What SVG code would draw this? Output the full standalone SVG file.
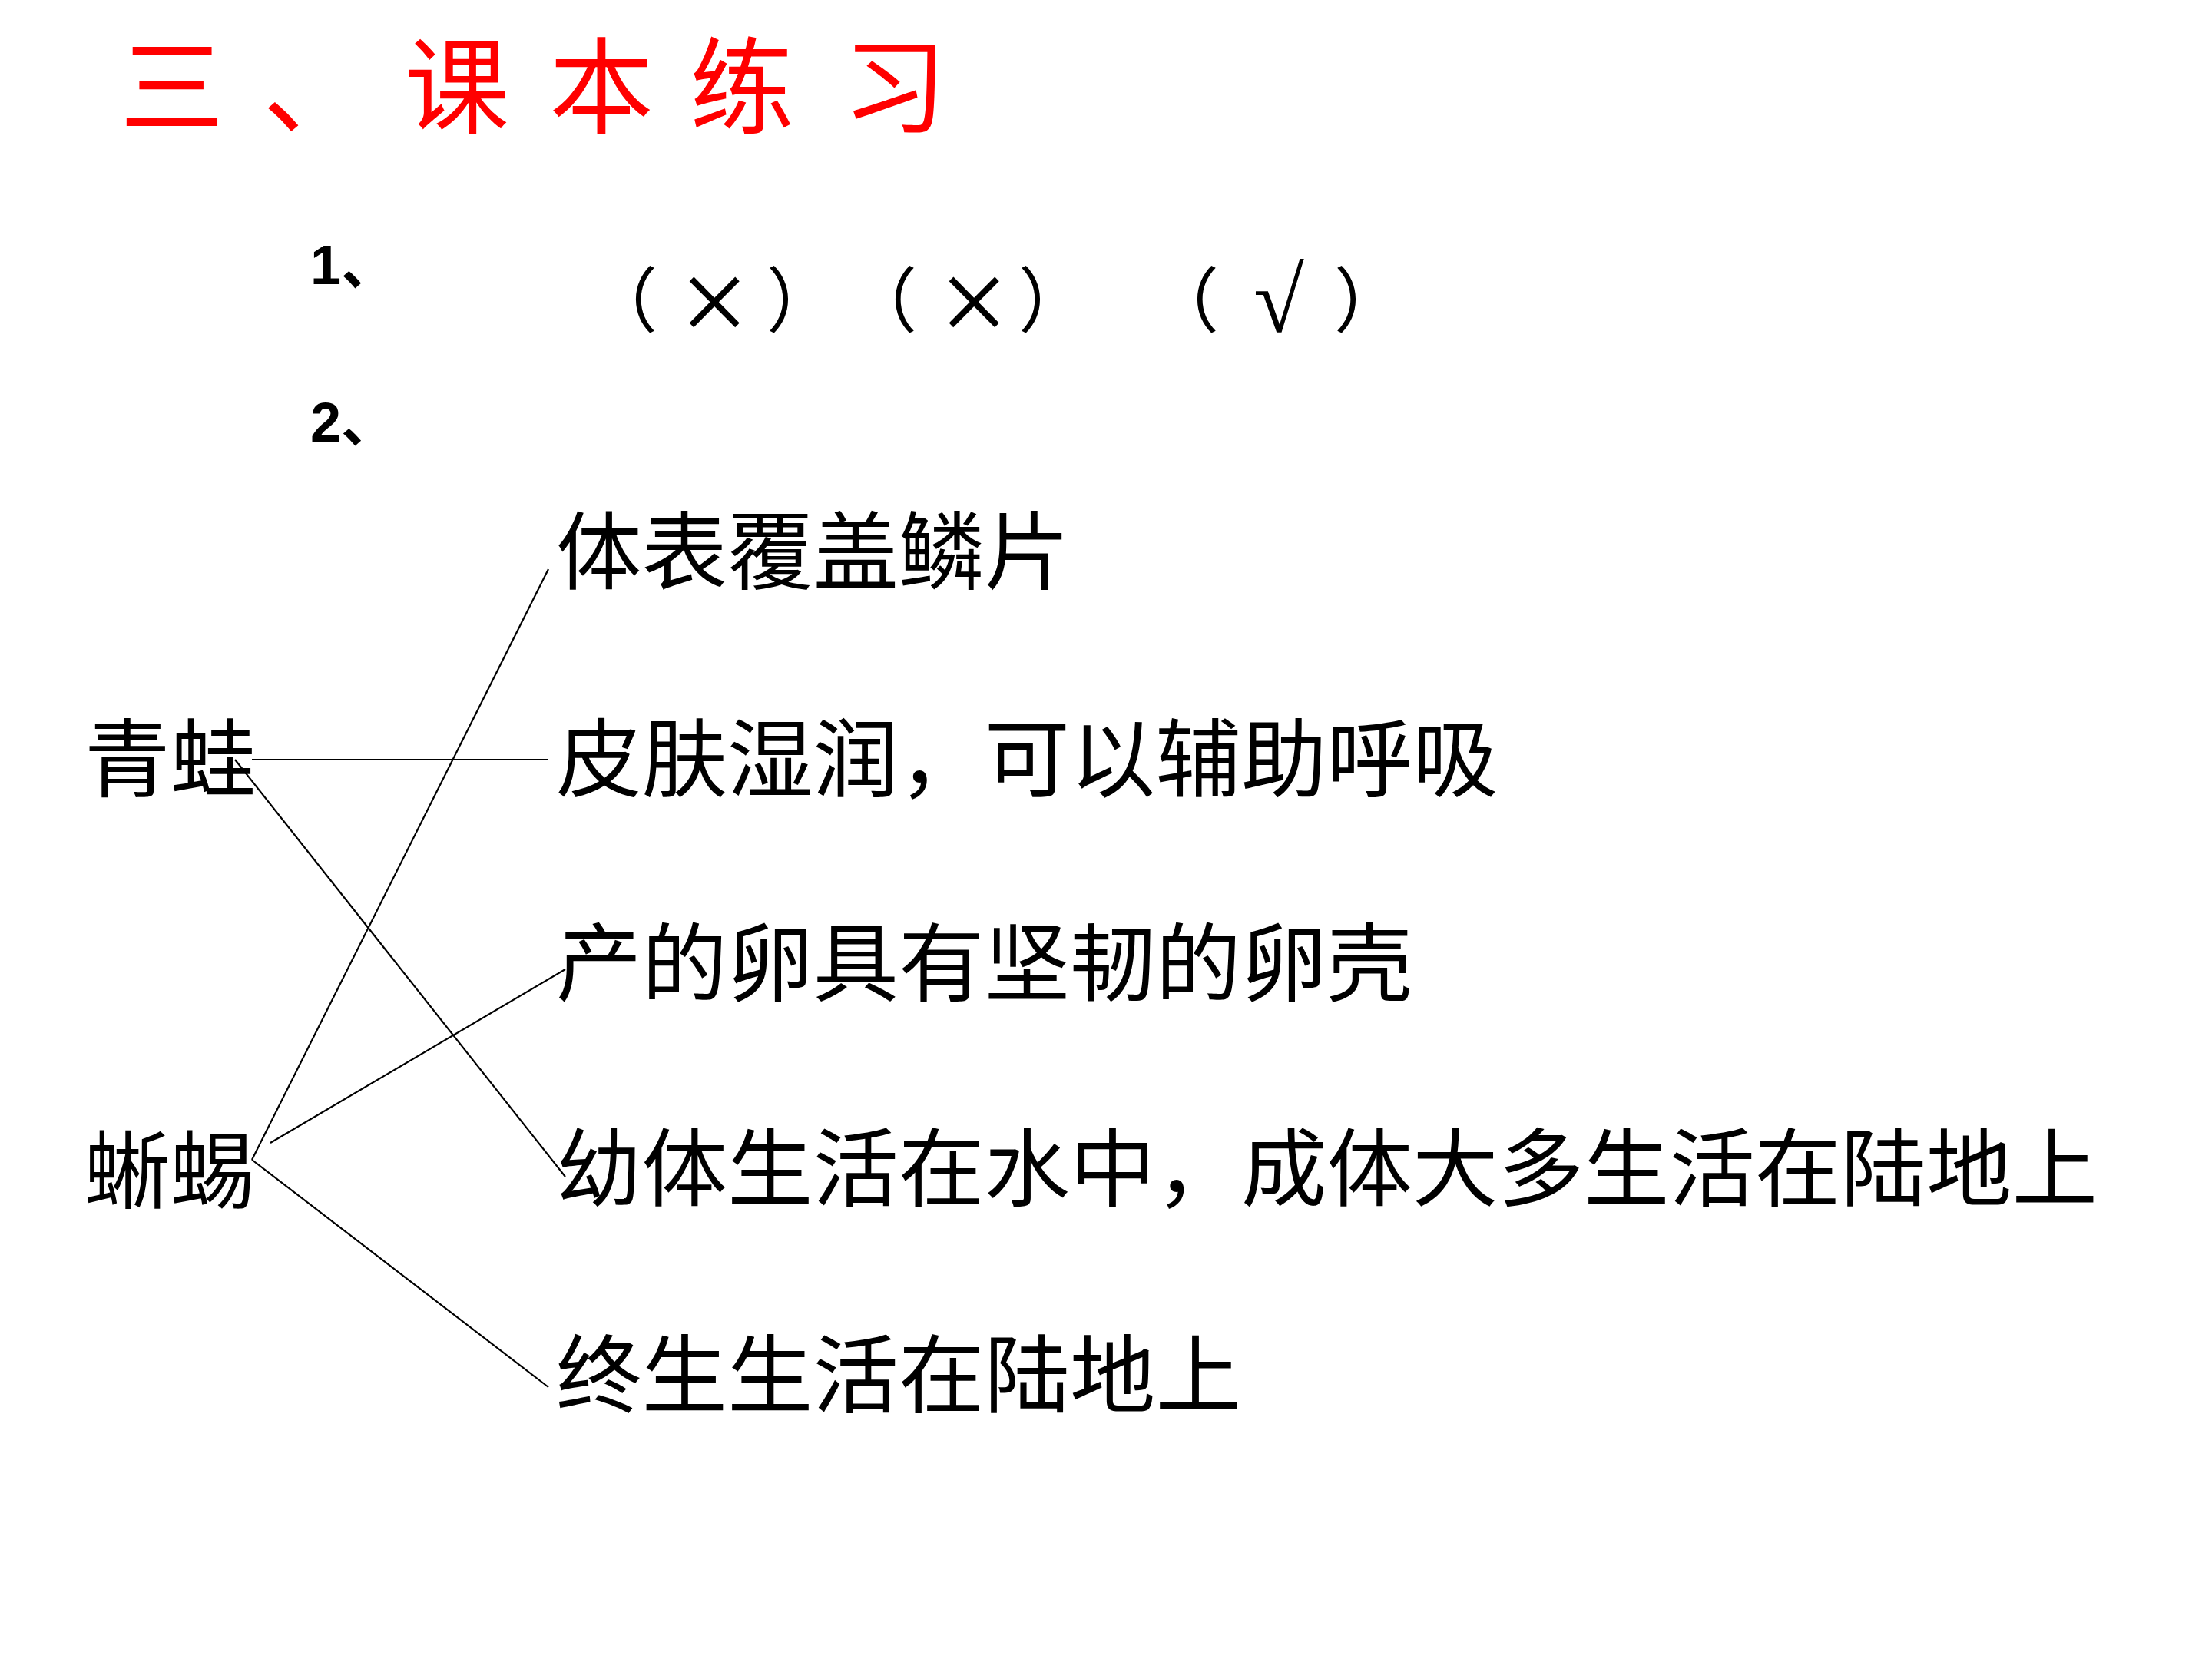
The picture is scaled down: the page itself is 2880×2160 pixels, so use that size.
<svg xmlns="http://www.w3.org/2000/svg" width="2880" height="2160" viewBox="0 0 2880 2160">
<style>
.cjk{font-family:"Noto Sans CJK SC","Noto Sans CJK TC",sans-serif;fill:#000}
.title{font-family:"Noto Sans CJK SC",sans-serif;fill:#FF0000;font-size:136px}
.num{font-family:"Liberation Sans","Noto Sans CJK SC",sans-serif;font-weight:bold;font-size:72px;fill:#000}
.body{font-size:111.5px}
.paren{font-family:"Noto Sans CJK SC",sans-serif;font-size:92px;fill:#000}
.sym{font-family:"Liberation Serif",serif;fill:#000}
.conn line{stroke:#000;stroke-width:2.2;fill:none}
</style>
<rect width="2880" height="2160" fill="#fff"/>
<g id="title"><text class="title" x="156 342 527 715 898 1097" y="163">三、课本练习</text></g>
<g id="q1"><text class="num" x="404" y="370">1、</text></g>
<g id="answers">
<text class="paren" text-anchor="middle" y="425"><tspan x="810">（</tspan><tspan x="1044">）</tspan><tspan x="1148">（</tspan><tspan x="1372">）</tspan><tspan x="1541">（</tspan><tspan x="1783">）</tspan></text>
<text class="sym" text-anchor="middle" font-size="160" y="447"><tspan x="930">×</tspan><tspan x="1268">×</tspan></text>
<text class="sym" text-anchor="middle" font-size="120" y="432"><tspan x="1665">√</tspan></text>
</g>
<g id="q2"><text class="num" x="404" y="575">2、</text></g>
<g id="frog"><text class="cjk body" x="110" y="1029">青蛙</text></g>
<g id="lizard"><text class="cjk body" x="110" y="1565">蜥蜴</text></g>
<g id="r1"><text class="cjk body" x="724" y="759">体表覆盖鳞片</text></g>
<g id="r2"><text class="cjk body" x="724" y="1029">皮肤湿润，可以辅助呼吸</text></g>
<g id="r3"><text class="cjk body" x="724" y="1295">产的卵具有坚韧的卵壳</text></g>
<g id="r4"><text class="cjk body" x="724" y="1562">幼体生活在水中，成体大多生活在陆地上</text></g>
<g id="r5"><text class="cjk body" x="724" y="1831">终生生活在陆地上</text></g>
<g id="connectors" class="conn">
<line x1="328" y1="989" x2="714" y2="989"/>
<line x1="306" y1="989" x2="736" y2="1532"/>
<line x1="328" y1="1510" x2="714" y2="741"/>
<line x1="352" y1="1488" x2="736" y2="1262"/>
<line x1="328" y1="1510" x2="714" y2="1806"/>
</g>
</svg>
